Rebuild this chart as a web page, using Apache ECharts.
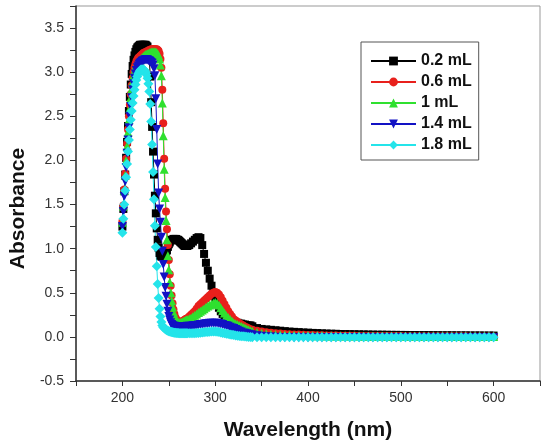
<!DOCTYPE html>
<html>
<head>
<meta charset="utf-8">
<title>Absorbance</title>
<script src="https://cdn.jsdelivr.net/npm/echarts@6/dist/echarts.min.js"></script>
<style>
html, body { margin: 0; padding: 0; background: #fff; }
#chart { width: 549px; height: 446px; }
</style>
</head>
<body>
<div id="chart"></div>
<script>
// wavelength grid (nm)
var wavelength = [
    200, 201, 202, 203, 204, 205, 206, 207, 208, 209,
    210, 211, 212, 213, 214, 215, 216, 217, 218, 219,
    220, 221, 222, 223, 224, 225, 226, 227, 228, 229,
    230, 231, 232, 233, 234, 235, 236, 237, 238, 239,
    240, 241, 242, 243, 244, 245, 246, 247, 248, 249,
    250, 251, 252, 253, 254, 255, 256, 257, 258, 259,
    260, 261, 262, 263, 264, 265, 266, 267, 268, 269, 270,
    272, 274, 276, 278, 280, 282, 284, 286, 288, 290,
    292, 294, 296, 298, 300, 302, 304, 306, 308, 310,
    312, 314, 316, 318, 320, 322, 324, 326, 328, 330,
    332, 334, 336, 338, 340,
    345, 350, 355, 360, 365, 370, 375, 380, 385, 390,
    395, 400, 405, 410, 415, 420, 425, 430, 435, 440,
    445, 450, 455, 460, 465, 470, 475, 480, 485, 490,
    495, 500, 505, 510, 515, 520, 525, 530, 535, 540,
    545, 550, 555, 560, 565, 570, 575, 580, 585, 590,
    595, 600
];

// absorbance, 0.2 mL
var abs02 = [
    1.25, 1.45, 1.65, 1.84, 2.03, 2.21, 2.39, 2.56, 2.72, 2.86,
    2.98, 3.07, 3.14, 3.19, 3.23, 3.26, 3.28, 3.29, 3.30, 3.31,
    3.31, 3.31, 3.31, 3.31, 3.31, 3.31, 3.30, 3.29, 3.25, 3.15,
    2.95, 2.66, 2.38, 2.10, 1.84, 1.60, 1.40, 1.23, 1.10, 1.01,
    0.95, 0.92, 0.91, 0.91, 0.91, 0.92, 0.93, 0.95, 0.98, 1.02,
    1.05, 1.07, 1.09, 1.10, 1.10, 1.11, 1.11, 1.11, 1.11, 1.10,
    1.10, 1.09, 1.08, 1.07, 1.06, 1.05, 1.04, 1.03, 1.03, 1.03, 1.03,
    1.04, 1.06, 1.08, 1.10, 1.12, 1.13, 1.12, 1.04, 0.94, 0.84,
    0.75, 0.66, 0.58, 0.50, 0.43, 0.37, 0.33, 0.29, 0.26, 0.24,
    0.22, 0.20, 0.19, 0.18, 0.17, 0.16, 0.16, 0.15, 0.15, 0.14,
    0.14, 0.13, 0.13, 0.13, 0.12,
    0.10, 0.09, 0.085, 0.08, 0.075, 0.07, 0.065, 0.06, 0.057, 0.054,
    0.05, 0.048, 0.045, 0.043, 0.04, 0.038, 0.036, 0.035, 0.033, 0.032,
    0.031, 0.03, 0.029, 0.028, 0.027, 0.026, 0.025, 0.025, 0.024, 0.023,
    0.023, 0.022, 0.022, 0.021, 0.021, 0.02, 0.02, 0.02, 0.019, 0.019,
    0.018, 0.018, 0.018, 0.017, 0.017, 0.017, 0.016, 0.016, 0.016, 0.015,
    0.015, 0.015
];

// absorbance, 0.6 mL
var abs06 = [
    1.31, 1.49, 1.67, 1.85, 2.02, 2.19, 2.35, 2.50, 2.63, 2.75,
    2.85, 2.93, 3.00, 3.05, 3.09, 3.12, 3.14, 3.16, 3.17, 3.18,
    3.19, 3.20, 3.21, 3.22, 3.22, 3.23, 3.23, 3.24, 3.24, 3.25,
    3.25, 3.26, 3.26, 3.26, 3.26, 3.26, 3.26, 3.26, 3.25, 3.24,
    3.21, 3.15, 3.05, 2.80, 2.42, 2.02, 1.68, 1.42, 1.22, 1.04,
    0.87, 0.71, 0.58, 0.47, 0.38, 0.31, 0.26, 0.22, 0.20, 0.18,
    0.17, 0.165, 0.165, 0.17, 0.175, 0.18, 0.185, 0.19, 0.20, 0.205, 0.21,
    0.23, 0.25, 0.27, 0.29, 0.32, 0.35, 0.37, 0.39, 0.41, 0.43,
    0.45, 0.47, 0.49, 0.50, 0.51, 0.50, 0.48, 0.45, 0.41, 0.37,
    0.33, 0.29, 0.26, 0.23, 0.20, 0.185, 0.17, 0.155, 0.14, 0.13,
    0.115, 0.105, 0.095, 0.085, 0.08,
    0.07, 0.06, 0.052, 0.046, 0.041, 0.037, 0.034, 0.031, 0.028, 0.026,
    0.024, 0.022, 0.02, 0.019, 0.018, 0.017, 0.016, 0.015, 0.014, 0.013,
    0.012, 0.012, 0.011, 0.011, 0.01, 0.01, 0.01, 0.01, 0.009, 0.009,
    0.009, 0.009, 0.008, 0.008, 0.008, 0.008, 0.007, 0.007, 0.007, 0.007,
    0.007, 0.006, 0.006, 0.006, 0.006, 0.006, 0.005, 0.005, 0.005, 0.005,
    0.005, 0.005
];

// absorbance, 1 mL
var abs10 = [
    1.30, 1.48, 1.66, 1.83, 2.00, 2.16, 2.32, 2.46, 2.59, 2.71,
    2.81, 2.89, 2.96, 3.01, 3.05, 3.08, 3.10, 3.12, 3.13, 3.14,
    3.15, 3.16, 3.17, 3.18, 3.19, 3.20, 3.20, 3.21, 3.21, 3.22,
    3.22, 3.23, 3.23, 3.23, 3.23, 3.23, 3.23, 3.22, 3.21, 3.19,
    3.15, 3.08, 2.96, 2.65, 2.28, 1.90, 1.58, 1.32, 1.10, 0.92,
    0.76, 0.62, 0.50, 0.41, 0.34, 0.28, 0.24, 0.21, 0.19, 0.175,
    0.165, 0.16, 0.16, 0.16, 0.165, 0.17, 0.175, 0.18, 0.185, 0.19, 0.195,
    0.205, 0.215, 0.23, 0.245, 0.26, 0.275, 0.29, 0.305, 0.32, 0.335,
    0.35, 0.36, 0.37, 0.38, 0.39, 0.38, 0.36, 0.33, 0.30, 0.27,
    0.24, 0.22, 0.20, 0.18, 0.16, 0.15, 0.14, 0.13, 0.12, 0.11,
    0.10, 0.09, 0.08, 0.07, 0.065,
    0.05, 0.042, 0.036, 0.031, 0.027, 0.024, 0.022, 0.02, 0.018, 0.017,
    0.016, 0.015, 0.014, 0.013, 0.012, 0.011, 0.011, 0.01, 0.01, 0.01,
    0.009, 0.009, 0.009, 0.008, 0.008, 0.008, 0.008, 0.007, 0.007, 0.007,
    0.007, 0.006, 0.006, 0.006, 0.006, 0.006, 0.005, 0.005, 0.005, 0.005,
    0.005, 0.005, 0.004, 0.004, 0.004, 0.004, 0.004, 0.004, 0.004, 0.004,
    0.004, 0.004
];

// absorbance, 1.4 mL
var abs14 = [
    1.25, 1.42, 1.59, 1.76, 1.92, 2.08, 2.23, 2.37, 2.50, 2.61,
    2.71, 2.80, 2.87, 2.93, 2.98, 3.02, 3.05, 3.07, 3.09, 3.10,
    3.11, 3.12, 3.13, 3.13, 3.14, 3.14, 3.14, 3.14, 3.13, 3.13,
    3.12, 3.11, 3.10, 3.08, 3.04, 2.96, 2.70, 2.35, 1.96, 1.63,
    1.45, 1.30, 1.13, 0.97, 0.82, 0.68, 0.56, 0.46, 0.37, 0.29,
    0.23, 0.19, 0.16, 0.14, 0.13, 0.12, 0.12, 0.115, 0.115, 0.11,
    0.11, 0.11, 0.11, 0.11, 0.11, 0.11, 0.11, 0.11, 0.115, 0.115, 0.12,
    0.12, 0.12, 0.125, 0.13, 0.13, 0.135, 0.14, 0.14, 0.145, 0.15,
    0.15, 0.155, 0.155, 0.155, 0.155, 0.155, 0.15, 0.145, 0.14, 0.13,
    0.125, 0.12, 0.11, 0.10, 0.095, 0.085, 0.075, 0.065, 0.055, 0.045,
    0.04, 0.035, 0.03, 0.025, 0.02,
    0.012, 0.006, 0.002, -0.002, -0.004, -0.006, -0.007, -0.008, -0.009, -0.01,
    -0.01, -0.01, -0.01, -0.01, -0.01, -0.01, -0.01, -0.01, -0.01, -0.01,
    -0.01, -0.01, -0.01, -0.01, -0.01, -0.01, -0.01, -0.01, -0.01, -0.01,
    -0.01, -0.01, -0.01, -0.01, -0.01, -0.01, -0.01, -0.01, -0.01, -0.01,
    -0.01, -0.01, -0.01, -0.01, -0.01, -0.01, -0.01, -0.01, -0.01, -0.01,
    -0.01, -0.01
];

// absorbance, 1.8 mL
var abs18 = [
    1.18, 1.34, 1.50, 1.66, 1.81, 1.96, 2.10, 2.23, 2.35, 2.46,
    2.56, 2.65, 2.73, 2.80, 2.86, 2.91, 2.95, 2.98, 3.00, 3.02,
    3.03, 3.03, 3.03, 3.03, 3.02, 3.00, 2.97, 2.93, 2.87, 2.78,
    2.64, 2.44, 2.18, 1.87, 1.56, 1.26, 1.02, 0.80, 0.60, 0.44,
    0.32, 0.23, 0.17, 0.13, 0.11, 0.10, 0.09, 0.08, 0.075, 0.07,
    0.065, 0.06, 0.058, 0.055, 0.053, 0.05, 0.048, 0.046, 0.045, 0.044,
    0.043, 0.042, 0.041, 0.04, 0.04, 0.04, 0.04, 0.04, 0.04, 0.04, 0.04,
    0.04, 0.04, 0.041, 0.042, 0.043, 0.045, 0.047, 0.05, 0.052, 0.054,
    0.056, 0.058, 0.06, 0.06, 0.06, 0.058, 0.055, 0.05, 0.045, 0.04,
    0.036, 0.032, 0.028, 0.024, 0.02, 0.016, 0.013, 0.01, 0.008, 0.006,
    0.004, 0.002, 0.0, -0.002, -0.003,
    -0.005, -0.005, -0.005, -0.005, -0.005, -0.005, -0.005, -0.005, -0.005, -0.005,
    -0.005, -0.005, -0.005, -0.005, -0.005, -0.005, -0.005, -0.005, -0.005, -0.005,
    -0.005, -0.005, -0.005, -0.005, -0.005, -0.005, -0.005, -0.005, -0.005, -0.005,
    -0.005, -0.005, -0.005, -0.005, -0.005, -0.005, -0.005, -0.005, -0.005, -0.005,
    -0.005, -0.005, -0.005, -0.005, -0.005, -0.005, -0.005, -0.005, -0.005, -0.005,
    -0.005, -0.005
];

var seriesNames = ['0.2 mL', '0.6 mL', '1 mL', '1.4 mL', '1.8 mL'];

var chart = echarts.init(document.getElementById('chart'));
var fontFamily = 'Arial, "Liberation Sans", sans-serif';

function toPairs(values) {
    return wavelength.map(function (x, i) { return [x, values[i]]; });
}

function makeSeries(name, values, color, symbol, size, rotate) {
    return {
        name: name,
        type: 'line',
        data: toPairs(values),
        symbol: symbol,
        symbolSize: size,
        symbolRotate: rotate || 0,
        showSymbol: true,
        showAllSymbol: true,
        lineStyle: { color: color, width: 1 },
        itemStyle: { color: color, borderWidth: 0 },
        emphasis: { disabled: true }
    };
}

option = {
    animation: false,
    backgroundColor: '#fff',
    textStyle: { fontFamily: fontFamily },
    grid: {
        show: true,
        left: 75,
        right: 9,
        top: 6,
        bottom: 60,
        borderColor: '#999',
        borderWidth: 1
    },
    legend: {
        orient: 'vertical',
        left: 361,
        top: 42,
        padding: [11, 7, 7, 9],
        itemWidth: 45,
        itemHeight: 11,
        itemGap: 5,
        borderColor: '#555',
        borderWidth: 1,
        textStyle: { fontSize: 16, fontWeight: 'bold', color: '#111', fontFamily: fontFamily },
        data: seriesNames
    },
    xAxis: {
        type: 'value',
        min: 150,
        max: 650,
        interval: 50,
        name: 'Wavelength (nm)',
        nameLocation: 'middle',
        nameGap: 39,
        nameTextStyle: { fontSize: 21, fontWeight: 'bold', color: '#111', fontFamily: fontFamily },
        axisLine: { onZero: false, lineStyle: { color: '#333', width: 1.5 } },
        axisTick: { show: true, inside: false, length: 5, lineStyle: { color: '#333' } },
        axisLabel: {
            margin: 10,
            fontSize: 14,
            color: '#333',
            formatter: function (v) { return v % 100 === 0 ? String(v) : ''; }
        },
        splitLine: { show: false }
    },
    yAxis: {
        type: 'value',
        min: -0.5,
        max: 3.75,
        interval: 0.25,
        name: 'Absorbance',
        nameLocation: 'middle',
        nameGap: 46,
        nameTextStyle: { fontSize: 21, fontWeight: 'bold', color: '#111', fontFamily: fontFamily, padding: [0, 30, 0, 0] },
        axisLine: { show: true, onZero: false, lineStyle: { color: '#333', width: 1.5 } },
        axisTick: { show: true, inside: false, length: 6, lineStyle: { color: '#333' } },
        axisLabel: {
            margin: 12,
            fontSize: 14,
            color: '#333',
            formatter: function (v) {
                var d = Math.round(v * 100);
                return d % 50 === 0 ? v.toFixed(1) : '';
            }
        },
        splitLine: { show: false }
    },
    series: [
        makeSeries(seriesNames[0], abs02, '#000000', 'rect', 8),
        makeSeries(seriesNames[1], abs06, '#e8201c', 'circle', 8),
        makeSeries(seriesNames[2], abs10, '#2fe02f', 'triangle', 9),
        makeSeries(seriesNames[3], abs14, '#1212c4', 'triangle', 9, 180),
        makeSeries(seriesNames[4], abs18, '#24e4ea', 'diamond', 10)
    ]
};

chart.setOption(option);
</script>
</body>
</html>
